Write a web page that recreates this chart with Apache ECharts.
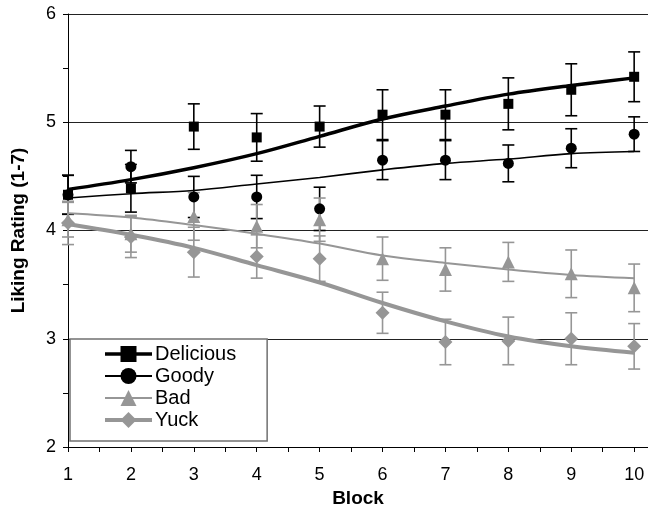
<!DOCTYPE html>
<html>
<head>
<meta charset="utf-8">
<script src="https://cdn.jsdelivr.net/npm/echarts@6/dist/echarts.min.js"></script>
<style>
html,body{margin:0;padding:0;background:#fff;}
#chart{width:648px;height:508px;}
</style>
</head>
<body>
<div id="chart"></div>
<script>
const blocks = [1, 2, 3, 4, 5, 6, 7, 8, 9, 10];
const yTicks = [2, 3, 4, 5, 6];

const delicious    = [4.33, 4.39, 4.96, 4.86, 4.96, 5.07, 5.07, 5.17, 5.30, 5.42];
const deliciousErr = [0.18, 0.22, 0.21, 0.22, 0.19, 0.23, 0.23, 0.24, 0.24, 0.23];
const deliciousFit = [4.38, 4.47, 4.58, 4.71, 4.87, 5.03, 5.15, 5.26, 5.34, 5.41];

const goody    = [4.33, 4.59, 4.31, 4.31, 4.20, 4.65, 4.65, 4.62, 4.76, 4.89];
const goodyErr = [0.18, 0.15, 0.19, 0.20, 0.20, 0.18, 0.18, 0.17, 0.18, 0.16];
const goodyFit = [4.30, 4.34, 4.37, 4.43, 4.49, 4.56, 4.62, 4.66, 4.71, 4.73];

const bad    = [4.10, 3.97, 4.13, 4.04, 4.10, 3.74, 3.64, 3.71, 3.60, 3.47];
const badErr = [0.16, 0.17, 0.22, 0.20, 0.20, 0.20, 0.20, 0.18, 0.22, 0.22];
const badFit = [4.16, 4.12, 4.05, 3.97, 3.88, 3.77, 3.70, 3.64, 3.59, 3.56];

const yuck    = [4.07, 3.94, 3.80, 3.76, 3.74, 3.24, 2.97, 2.98, 3.00, 2.93];
const yuckErr = [0.20, 0.19, 0.23, 0.20, 0.21, 0.19, 0.21, 0.22, 0.24, 0.21];
const yuckFit = [4.06, 3.96, 3.84, 3.68, 3.52, 3.33, 3.16, 3.02, 2.93, 2.87];

const BLACK = '#000000';
const GREY = '#969696';
const FONT = '"Liberation Sans", Arial, sans-serif';

function pairs(vals) { return blocks.map((b, i) => [b, vals[i]]); }

function errSeries(id, vals, errs, color) {
  return {
    type: 'custom',
    name: id,
    z: 2,
    silent: true,
    data: blocks.map((b, i) => [b, vals[i] - errs[i], vals[i] + errs[i]]),
    encode: { x: 0, y: [1, 2] },
    renderItem: function (params, api) {
      const x = api.value(0);
      const lo = api.coord([x, api.value(1)]);
      const hi = api.coord([x, api.value(2)]);
      const hw = 6;
      const st = { stroke: color, lineWidth: 1.6 };
      return {
        type: 'group',
        children: [
          { type: 'line', shape: { x1: lo[0], y1: lo[1], x2: hi[0], y2: hi[1] }, style: st },
          { type: 'line', shape: { x1: lo[0] - hw, y1: lo[1], x2: lo[0] + hw, y2: lo[1] }, style: st },
          { type: 'line', shape: { x1: hi[0] - hw, y1: hi[1], x2: hi[0] + hw, y2: hi[1] }, style: st }
        ]
      };
    }
  };
}

function fitSeries(name, vals, color, width, symbol) {
  return {
    type: 'line',
    name: name,
    data: pairs(vals),
    smooth: 0.35,
    showSymbol: false,
    symbol: symbol,
    z: 3,
    color: color,
    lineStyle: { color: color, width: width },
    itemStyle: { color: color }
  };
}

function ptSeries(id, vals, color, symbol, size) {
  return {
    type: 'scatter',
    name: id,
    data: pairs(vals),
    symbol: symbol,
    symbolSize: size,
    z: 4,
    itemStyle: { color: color, opacity: 1 }
  };
}

const chart = echarts.init(document.getElementById('chart'), null, { renderer: 'canvas' });
chart.setOption({
  animation: false,
  backgroundColor: '#ffffff',
  textStyle: { fontFamily: FONT },
  grid: { left: 68, right: 0, top: 14, bottom: 61, containLabel: false, outerBoundsMode: 'none' },
  legend: {
    data: [
      { name: 'Delicious', lineStyle: { width: 3.5 } },
      { name: 'Goody', lineStyle: { width: 1.8 } },
      { name: 'Bad', lineStyle: { width: 2 } },
      { name: 'Yuck', lineStyle: { width: 4 } }
    ],
    orient: 'vertical',
    left: 70,
    top: 339,
    padding: [5, 31, 11, 33],
    itemWidth: 47,
    itemHeight: 20,
    itemGap: 2,
    backgroundColor: '#ffffff',
    borderColor: '#707070',
    borderWidth: 1.5,
    textStyle: { fontSize: 20, color: '#000', fontFamily: FONT, padding: [0, 0, 0, -2] },
    selectedMode: false
  },
  xAxis: {
    type: 'value',
    min: 1,
    max: 10.22,
    interval: 0.5,
    name: 'Block',
    nameLocation: 'middle',
    nameGap: 42,
    nameTextStyle: { fontSize: 19, fontWeight: 'bold', color: '#000', fontFamily: FONT },
    axisLine: { lineStyle: { color: '#000', width: 1 } },
    axisTick: { show: true, inside: false, length: 5, lineStyle: { color: '#000' } },
    axisLabel: {
      fontSize: 18, color: '#000', margin: 19, fontFamily: FONT,
      formatter: v => (Number.isInteger(v) && blocks.indexOf(v) >= 0 ? String(v) : ''),
      showMaxLabel: false
    },
    splitLine: { show: false }
  },
  yAxis: [
    {
      type: 'value',
      min: 2,
      max: 6,
      interval: 0.5,
      name: 'Liking Rating (1-7)',
      nameLocation: 'middle',
      nameGap: 40,
      nameTextStyle: { fontSize: 19, fontWeight: 'bold', color: '#000', fontFamily: FONT },
      axisLine: { show: true, lineStyle: { color: '#000', width: 1 } },
      axisTick: { show: true, inside: false, length: 5, lineStyle: { color: '#000' } },
      axisLabel: {
        fontSize: 18, color: '#000', margin: 12, fontFamily: FONT,
        formatter: v => (yTicks.indexOf(v) >= 0 ? String(v) : '')
      },
      splitLine: { show: false }
    },
    {
      type: 'value',
      min: 2,
      max: 6,
      interval: 1,
      position: 'left',
      axisLine: { show: false },
      axisTick: { show: false },
      axisLabel: { show: false },
      splitLine: { show: true, lineStyle: { color: '#222', width: 1 } }
    }
  ],
  series: [
    errSeries('e-Delicious', delicious, deliciousErr, BLACK),
    errSeries('e-Goody', goody, goodyErr, BLACK),
    errSeries('e-Bad', bad, badErr, GREY),
    errSeries('e-Yuck', yuck, yuckErr, GREY),
    fitSeries('Delicious', deliciousFit, BLACK, 3.5, 'rect'),
    fitSeries('Goody', goodyFit, BLACK, 1.6, 'circle'),
    fitSeries('Bad', badFit, GREY, 2, 'triangle'),
    fitSeries('Yuck', yuckFit, GREY, 4, 'diamond'),
    ptSeries('p-Delicious', delicious, BLACK, 'rect', 10),
    ptSeries('p-Goody', goody, BLACK, 'circle', 11),
    ptSeries('p-Bad', bad, GREY, 'triangle', 13),
    ptSeries('p-Yuck', yuck, GREY, 'diamond', 14)
  ]
});
</script>
</body>
</html>
